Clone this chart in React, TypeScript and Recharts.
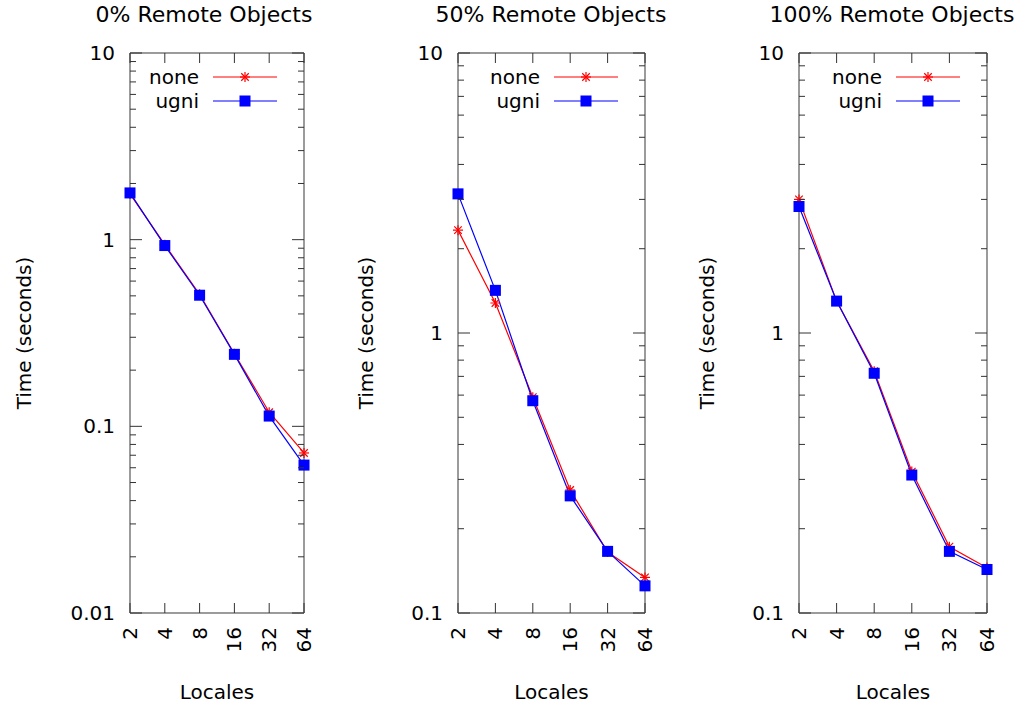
import React from 'react'
import { LineChart, Line, XAxis, YAxis, Legend } from 'recharts'

// x categories (number of locales)
const locales = ['2', '4', '8', '16', '32', '64']

// time in seconds
const none0 = [1.76, 0.94, 0.51, 0.245, 0.119, 0.072]
const ugni0 = [1.78, 0.93, 0.504, 0.243, 0.1135, 0.062]
const none50 = [2.33, 1.28, 0.59, 0.275, 0.165, 0.134]
const ugni50 = [3.14, 1.42, 0.573, 0.262, 0.166, 0.125]
const none100 = [3.0, 1.3, 0.73, 0.32, 0.1725, 0.145]
const ugni100 = [2.83, 1.3, 0.718, 0.311, 0.166, 0.143]

const titles = ['0% Remote Objects', '50% Remote Objects', '100% Remote Objects']
const majors0 = [0.01, 0.1, 1, 10]
const majors = [0.1, 1, 10]
const majorLabels: Record<number, string> = { 0.01: '0.01', 0.1: '0.1', 1: '1', 10: '10' }

const FONT = '"DejaVu Sans", Verdana, sans-serif'
const RED = '#ff0000'
const BLUE = '#0000ff'
const BORDER = '#7a7a7a'
const TICK = '#333'

// major ticks plus 2..9 minor ticks in every decade
const withMinors = (decades: number[]) => {
  const out: number[] = []
  decades.forEach((d, i) => {
    out.push(d)
    if (i < decades.length - 1) for (let k = 2; k <= 9; k++) out.push(+(d * k).toPrecision(3))
  })
  return out
}

const buildRows = (none: number[], ugni: number[]) =>
  locales.map((l, i) => ({ locales: l, none: none[i], ugni: ugni[i] }))

const Star = (props: any) => {
  const { cx, cy } = props
  if (cx == null || cy == null) return <g />
  const r = 5
  return (
    <g stroke={RED} strokeWidth={1.2}>
      <line x1={cx - r} y1={cy} x2={cx + r} y2={cy} />
      <line x1={cx} y1={cy - r} x2={cx} y2={cy + r} />
      <line x1={cx - r * 0.75} y1={cy - r * 0.75} x2={cx + r * 0.75} y2={cy + r * 0.75} />
      <line x1={cx - r * 0.75} y1={cy + r * 0.75} x2={cx + r * 0.75} y2={cy - r * 0.75} />
    </g>
  )
}

const Square = (props: any) => {
  const { cx, cy } = props
  if (cx == null || cy == null) return <g />
  return <rect x={cx - 5.5} y={cy - 5.5} width={11} height={11} fill={BLUE} />
}

const LegendBox = ({ payload }: any) => (
  <div style={{ fontFamily: FONT, fontSize: 20, color: '#000' }}>
    {(payload || []).map((p: any) => (
      <div key={p.value} style={{ display: 'flex', alignItems: 'center', height: 24, justifyContent: 'flex-end' }}>
        <span style={{ marginRight: 14 }}>{p.value}</span>
        <svg width={64} height={20}>
          <line x1={0} y1={10} x2={64} y2={10} stroke={p.color} strokeWidth={1} />
          {p.value === 'none' ? <Star cx={32} cy={10} /> : <Square cx={32} cy={10} />}
        </svg>
      </div>
    ))}
  </div>
)

interface PanelProps {
  title: string
  data: any[]
  decades: number[]
  left: number
  width: number
  marginLeft: number
  marginRight: number
  titleCenter: number
  yLabelGap: number
}

function Panel({ title, data, decades, left, width, marginLeft, marginRight, titleCenter, yLabelGap }: PanelProps) {
  const ticks = withMinors(decades)
  const domain = [decades[0], decades[decades.length - 1]]

  const leftTick = (props: any) => {
    const { x, y, payload } = props
    const label = majorLabels[payload.value]
    return (
      <g>
        <line x1={x} y1={y} x2={x + (label ? 12 : 6)} y2={y} stroke={TICK} />
        {label && (
          <text x={x - 15} y={y} textAnchor="end" dominantBaseline="central" fontFamily={FONT} fontSize={20} fill="#000">
            {label}
          </text>
        )}
      </g>
    )
  }
  const rightTick = (props: any) => {
    const { x, y, payload } = props
    const major = majorLabels[payload.value] !== undefined
    return <line x1={x} y1={y} x2={x - (major ? 12 : 6)} y2={y} stroke={TICK} />
  }
  const bottomTick = (props: any) => {
    const { x, y, payload } = props
    return (
      <g>
        <line x1={x} y1={y} x2={x} y2={y - 10} stroke={TICK} />
        <text
          x={x}
          y={y + 14}
          transform={`rotate(-90 ${x} ${y + 14})`}
          textAnchor="end"
          dominantBaseline="central"
          fontFamily={FONT}
          fontSize={20}
          fill="#000"
        >
          {payload.value}
        </text>
      </g>
    )
  }
  const topTick = (props: any) => {
    const { x, y } = props
    return <line x1={x} y1={y} x2={x} y2={y + 10} stroke={TICK} />
  }

  return (
    <div style={{ position: 'absolute', left, top: 0, width, height: 703 }}>
      <div
        style={{
          position: 'absolute',
          top: 2,
          left: titleCenter - 150,
          width: 300,
          textAlign: 'center',
          fontFamily: FONT,
          fontSize: 22,
          whiteSpace: 'nowrap',
        }}
      >
        {title}
      </div>
      <LineChart
        width={width}
        height={703}
        data={data}
        margin={{ top: 52, right: marginRight - 1, bottom: 89, left: marginLeft - 1 }}
      >
        <XAxis
          dataKey="locales"
          height={1}
          tickSize={0}
          tickMargin={0}
          tickLine={false}
          axisLine={{ stroke: BORDER, strokeWidth: 1.5 }}
          tick={bottomTick}
          interval={0}
          label={{ value: 'Locales', position: 'bottom', offset: 71, fontFamily: FONT, fontSize: 20, fill: '#000' }}
        />
        <XAxis
          xAxisId="top"
          orientation="top"
          dataKey="locales"
          height={1}
          tickSize={0}
          tickMargin={0}
          tickLine={false}
          axisLine={{ stroke: BORDER, strokeWidth: 1.5 }}
          tick={topTick}
          interval={0}
        />
        <YAxis
          scale="log"
          type="number"
          domain={domain}
          ticks={ticks}
          allowDataOverflow
          width={1}
          tickSize={0}
          tickMargin={0}
          tickLine={false}
          interval={0}
          axisLine={{ stroke: BORDER, strokeWidth: 1.5 }}
          tick={leftTick}
          label={{
            value: 'Time (seconds)',
            content: (p: any) => {
              const vb = p.viewBox
              const cx = vb.x + vb.width - yLabelGap
              const cy = vb.y + vb.height / 2
              return (
                <text
                  x={cx}
                  y={cy}
                  transform={`rotate(-90 ${cx} ${cy})`}
                  textAnchor="middle"
                  dominantBaseline="central"
                  fontFamily={FONT}
                  fontSize={20}
                  fill="#000"
                >
                  Time (seconds)
                </text>
              )
            },
          }}
        />
        <YAxis
          yAxisId="right"
          orientation="right"
          scale="log"
          type="number"
          domain={domain}
          ticks={ticks}
          allowDataOverflow
          width={1}
          tickSize={0}
          tickMargin={0}
          tickLine={false}
          interval={0}
          axisLine={{ stroke: BORDER, strokeWidth: 1.5 }}
          tick={rightTick}
        />
        <Legend
          layout="vertical"
          verticalAlign="middle"
          align="center"
          wrapperStyle={{ top: 65, right: marginRight + 27, left: 'auto', width: 'auto' }}
          content={LegendBox}
        />
        <Line
          dataKey="none"
          name="none"
          stroke={RED}
          strokeWidth={1.2}
          dot={(p: any) => <Star key={`s${p.index}`} {...p} />}
          activeDot={false}
          isAnimationActive={false}
        />
        <Line
          dataKey="ugni"
          name="ugni"
          stroke={BLUE}
          strokeWidth={1.2}
          dot={(p: any) => <Square key={`q${p.index}`} {...p} />}
          activeDot={false}
          isAnimationActive={false}
        />
      </LineChart>
    </div>
  )
}

export default function App() {
  return (
    <div style={{ position: 'absolute', left: 0, top: 0, width: 1015, height: 703, background: '#fff' }}>
      <Panel
        title={titles[0]}
        data={buildRows(none0, ugni0)}
        decades={majors0}
        left={0}
        width={338}
        marginLeft={130}
        marginRight={34}
        titleCenter={204}
        yLabelGap={106}
      />
      <Panel
        title={titles[1]}
        data={buildRows(none50, ugni50)}
        decades={majors}
        left={338}
        width={338}
        marginLeft={120}
        marginRight={31}
        titleCenter={213}
        yLabelGap={92}
      />
      <Panel
        title={titles[2]}
        data={buildRows(none100, ugni100)}
        decades={majors}
        left={676}
        width={339}
        marginLeft={123}
        marginRight={28}
        titleCenter={216}
        yLabelGap={92}
      />
    </div>
  )
}
